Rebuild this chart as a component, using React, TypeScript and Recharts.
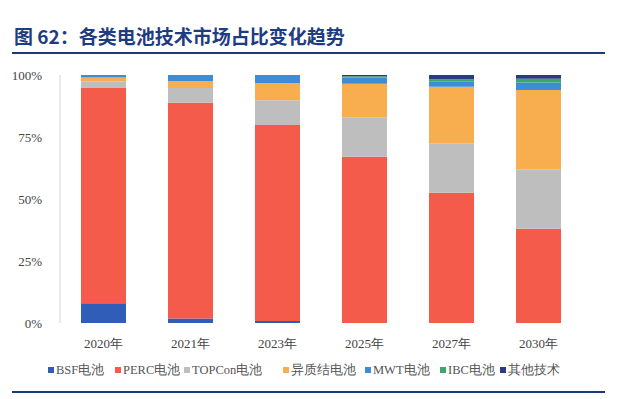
import { Bar, BarChart, XAxis, YAxis } from 'recharts'

const years = ['2020年', '2021年', '2023年', '2025年', '2027年', '2030年']

const seriesNames = ['BSF电池', 'PERC电池', 'TOPCon电池', '异质结电池', 'MWT电池', 'IBC电池', '其他技术']
const seriesColors = ['#2F5DB8', '#F45B4B', '#BEBEBE', '#F8AE4E', '#3E8CD8', '#3BA86A', '#2C3A82']
// legend item left edges
const legendX = [48, 115, 184, 283, 365, 440, 500]

const bsf = [8, 1.8, 0.8, 0, 0, 0]
const perc = [87, 87, 79, 67, 52.5, 38]
const topcon = [2.5, 6, 10, 16, 20, 24]
const hjt = [1.5, 2.7, 7, 13.5, 22.8, 32]
const mwt = [1, 2.5, 3.2, 2.5, 2, 3]
const ibc = [0, 0, 0, 0.5, 1, 1.5]
const other = [0, 0, 0, 0.5, 1.7, 1.5]

const yTicks = [0, 25, 50, 75, 100]

const allSeries = [bsf, perc, topcon, hjt, mwt, ibc, other]
const keys = ['bsf', 'perc', 'topcon', 'hjt', 'mwt', 'ibc', 'other']

const data = years.map((year, i) => {
  const row: Record<string, string | number> = { year }
  keys.forEach((k, j) => {
    row[k] = allSeries[j][i]
  })
  return row
})

const serif = '"Liberation Serif", "Times New Roman", serif'

export default function App() {
  return (
    <div style={{ position: 'absolute', left: 0, top: 0, width: 623, height: 399, background: '#fff' }}>
      <div
        style={{
          position: 'absolute',
          left: 14,
          top: 24,
          fontFamily: '"Noto Sans CJK SC", sans-serif',
          fontWeight: 700,
          fontSize: 19,
          color: '#1E3C80',
          whiteSpace: 'nowrap',
          lineHeight: '24px',
        }}
      >
        图 62：各类电池技术市场占比变化趋势
      </div>
      <div style={{ position: 'absolute', left: 12, top: 52, width: 593, height: 2, background: '#1A3A7C' }} />

      <div style={{ position: 'absolute', left: 0, top: 0 }}>
        <BarChart width={623} height={360} data={data} margin={{ top: 75, right: 41, bottom: 7, left: 8 }} barSize={45}>
          <XAxis
            dataKey="year"
            axisLine={false}
            tickLine={false}
            height={30}
            tickMargin={10}
            tick={{ fontSize: 13, fill: '#444', fontFamily: serif }}
          />
          <YAxis
            domain={[0, 100]}
            ticks={yTicks}
            width={52}
            tickLine={false}
            axisLine={{ stroke: '#d4d4d4' }}
            tickMargin={12}
            tickFormatter={(v) => `${v}%`}
            tick={{ fontSize: 13, fill: '#444', fontFamily: serif }}
          />
          {keys.map((k, j) => (
            <Bar key={k} dataKey={k} stackId="a" fill={seriesColors[j]} isAnimationActive={false} />
          ))}
        </BarChart>
      </div>

      {seriesNames.map((name, j) => (
        <div
          key={name}
          style={{
            position: 'absolute',
            left: legendX[j],
            top: 360,
            display: 'flex',
            alignItems: 'center',
            fontFamily: serif,
            fontSize: 12.5,
            color: '#555',
            whiteSpace: 'nowrap',
            lineHeight: '20px',
          }}
        >
          <span style={{ display: 'inline-block', width: 6, height: 6, background: seriesColors[j], marginRight: 2 }} />
          {name}
        </div>
      ))}

      <div style={{ position: 'absolute', left: 12, top: 391, width: 593, height: 2, background: '#1A3A7C' }} />
    </div>
  )
}
